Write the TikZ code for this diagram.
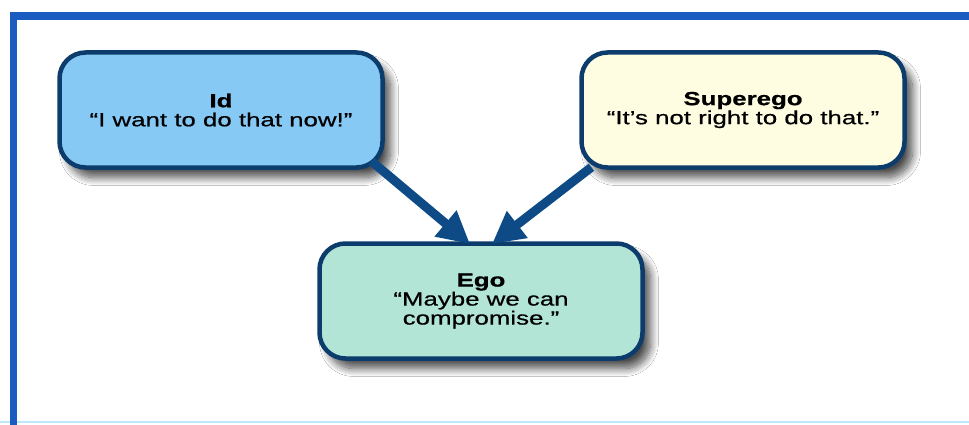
\documentclass[tikz,border=0pt]{standalone}
\usepackage{fontspec}
\setmainfont{Liberation Sans}
\newfontfamily\boxfont[FakeStretch=1.36,FakeBold=0.6]{Liberation Sans}
\usetikzlibrary{arrows.meta,shapes.misc,shadows.blur}
\definecolor{frameblue}{HTML}{1A5CC0}
\definecolor{framelight}{HTML}{BFE6FA}
\definecolor{navy}{HTML}{0B3C6C}
\definecolor{arrownavy}{HTML}{0E4A86}
\definecolor{idfill}{HTML}{86C9F4}
\definecolor{superfill}{HTML}{FEFDE2}
\definecolor{egofill}{HTML}{B3E5D6}
\tikzset{
  psybox/.style={draw=navy, line width=4.5pt, rounded corners=26pt,
    minimum width=323pt, minimum height=115pt, align=center, inner sep=0pt,
    font=\boxfont\fontsize{19pt}{19pt}\selectfont,
    blur shadow={shadow xshift=8pt, shadow yshift=-10pt, shadow blur radius=8pt, shadow blur steps=12, shadow opacity=70}},
  pushes/.style={draw=arrownavy, line width=9pt, -{Triangle[length=32pt,width=32pt]}, shorten <=2pt}
}
\begin{document}
\begin{tikzpicture}[x=1pt,y=-1pt]
\useasboundingbox (0,0) rectangle (969,425);
\fill[white] (0,0) rectangle (969,425);
% frame
\fill[framelight] (0,421) rectangle (969,423);
\fill[frameblue] (10,12) rectangle (969,20);
\fill[frameblue] (10,12) rectangle (17,425);
% boxes
\node[psybox, fill=idfill] (id) at (221,110)
  {\fontsize{19pt}{18pt}\selectfont\textbf{Id}\\ “I want to do that now!”};
\node[psybox, fill=superfill] (super) at (743,110)
  {\fontsize{19pt}{20pt}\selectfont\textbf{Superego}\\ “It’s not right to do that.”};
\node[psybox, fill=egofill] (ego) at (481,301)
  {\fontsize{19pt}{25pt}\selectfont\textbf{Ego}\\ “Maybe we can\\ compromise.”};
% connectors
\coordinate (idout) at (370,160);
\coordinate (superout) at (593,166);
\coordinate (egoinL) at (470,244);
\coordinate (egoinR) at (492,244);
\draw[pushes] (idout) -- (egoinL);
\draw[pushes] (superout) -- (egoinR);
\end{tikzpicture}
\end{document}
